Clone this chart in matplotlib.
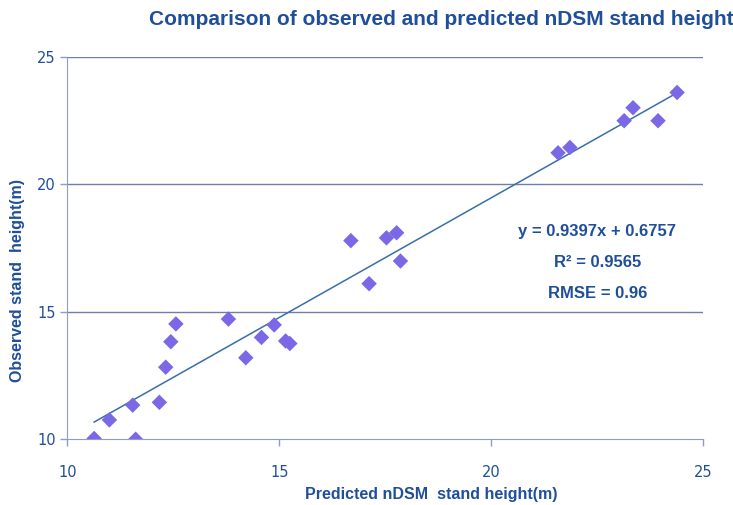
import numpy as np
import matplotlib
matplotlib.use('Agg')
import matplotlib.pyplot as plt

# predicted (x) vs observed (y) stand height
predicted = [10.63, 10.99, 11.54, 11.61, 12.17, 12.32, 12.44, 12.56, 13.80, 14.21,
             14.58, 14.88, 15.15, 15.25, 16.69, 17.12, 17.53, 17.77, 17.86,
             21.58, 21.86, 23.14, 23.35, 23.94, 24.39]
observed = [10.02, 10.75, 11.33, 9.99, 11.44, 12.82, 13.82, 14.52, 14.71, 13.19,
            13.99, 14.48, 13.85, 13.75, 17.79, 16.10, 17.90, 18.10, 16.99,
            21.24, 21.45, 22.50, 23.01, 22.50, 23.61]

slope = 0.9397
intercept = 0.6757
r2 = 0.9565
rmse = 0.96

xticks = [10, 15, 20, 25]
yticks = [10, 15, 20, 25]

dark_blue = '#1F4E9B'
axis_col = '#8E9CC8'
grid_col = '#6E7FAE'
marker_col = '#7B68E6'

bold_font = ['Liberation Sans', 'DejaVu Sans']

fig = plt.figure(figsize=(7.33, 5.05), dpi=100)
ax = fig.add_axes([0.092, 0.1307, 0.867, 0.7563])

for yv in yticks[1:]:
    ax.axhline(yv, color=grid_col, lw=1, zorder=1)

ax.scatter(predicted, observed, marker='D', s=62, color=marker_col, edgecolor='none', zorder=3)

xs = np.array([min(predicted), max(predicted)])
ax.plot(xs, slope * xs + intercept, color='#3A6EA8', lw=1.1, zorder=2)

ax.set_xlim(10, 25)
ax.set_ylim(10, 25)
ax.set_xticks(xticks)
ax.set_yticks(yticks)
ax.tick_params(colors=axis_col, labelcolor=dark_blue, labelsize=10.5, length=5, width=1)
ax.tick_params(axis='x', pad=14)
ax.spines['top'].set_visible(False)
ax.spines['right'].set_visible(False)
ax.spines['left'].set_color(axis_col)
ax.spines['bottom'].set_color(axis_col)

ax.set_xlabel('Predicted nDSM  stand height(m)', color=dark_blue, fontsize=11.5,
              fontweight='bold', family=bold_font)
ax.set_ylabel('Observed stand  height(m)', color=dark_blue, fontsize=11.5,
              fontweight='bold', family=bold_font)
ax.xaxis.set_label_coords(0.572, -0.125)
ax.yaxis.set_label_coords(-0.066, 0.414)

fig.suptitle('Comparison of observed and predicted nDSM stand height', x=0.602, y=0.98,
             color=dark_blue, fontsize=15, fontweight='bold', family=bold_font)

kw = dict(transform=ax.transAxes, ha='center', va='center', color=dark_blue,
          fontsize=12, fontweight='bold', family=bold_font)
ax.text(0.834, 0.542, 'y = %.4fx + %.4f' % (slope, intercept), **kw)
ax.text(0.834, 0.461, 'R² = %.4f' % r2, **kw)
ax.text(0.834, 0.380, 'RMSE = %.2f' % rmse, **kw)

fig.savefig('out.png', dpi=100)
